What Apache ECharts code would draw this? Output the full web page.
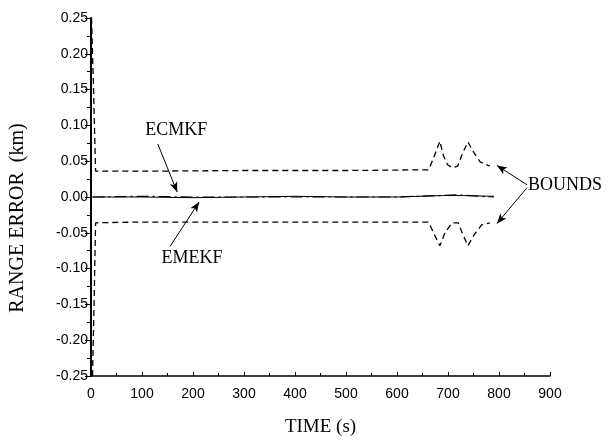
<!DOCTYPE html>
<html>
<head>
<meta charset="utf-8">
<script src="https://cdn.jsdelivr.net/npm/echarts@6/dist/echarts.min.js"></script>
<style>html,body{margin:0;padding:0;background:#fff;}#c{width:608px;height:442px;}</style>
</head>
<body>
<div id="c"></div>
<script>
// ---- data (time in s, range error in km) ----
const xTicks = [0, 100, 200, 300, 400, 500, 600, 700, 800, 900];
const yTicks = [-0.25, -0.20, -0.15, -0.10, -0.05, 0.00, 0.05, 0.10, 0.15, 0.20, 0.25];

const upperBound = [[1,0.25],[5,0.15],[9,0.036],[100,0.036],[300,0.037],[500,0.037],[662,0.038],
  [672,0.055],[684,0.078],[691,0.058],[699,0.045],[708,0.041],[719,0.043],[728,0.060],[739,0.077],
  [749,0.064],[763,0.049],[782,0.043]];
const lowerBound = [[3,-0.25],[6,-0.15],[9,-0.036],[100,-0.035],[300,-0.035],[500,-0.035],[662,-0.035],
  [673,-0.052],[684,-0.068],[694,-0.050],[708,-0.036],[720,-0.036],[729,-0.052],[739,-0.068],
  [751,-0.053],[766,-0.039],[782,-0.036]];
const ecmkf = [[3,0.000],[100,0.001],[200,0.000],[300,0.000],[400,0.000],[500,0.000],[600,0.000],
  [680,0.002],[720,0.003],[760,0.001],[790,0.000]];
const emekf = [[3,0.000],[100,0.000],[200,-0.001],[300,0.000],[400,0.001],[500,0.000],[600,0.000],
  [690,0.002],[730,0.002],[790,0.001]];

// annotation arrows: [fromTime, fromErr, toTime, toErr]
const arrowEcmkf = [131, 0.074, 169, 0.007];
const arrowEmekf = [155, -0.069, 212, -0.007];
const arrowBoundsUp = [855, 0.017, 796, 0.044];
const arrowBoundsDn = [855, 0.013, 796, -0.037];
// annotation labels: [text, time, err, align]
const labelEcmkf = ['ECMKF', 167, 0.093, 'center'];
const labelEmekf = ['EMEKF', 198, -0.085, 'center'];
const labelBounds = ['BOUNDS', 857, 0.016, 'left'];

const chart = echarts.init(document.getElementById('c'), null, {renderer:'canvas'});
const serif = '"Liberation Serif", "DejaVu Serif", serif';
const sans = '"Liberation Sans", Arial, sans-serif';
function arrow(a){ return [{coord:[a[0],a[1]]},{coord:[a[2],a[3]]}]; }

const option = {
  animation: false,
  backgroundColor: '#fff',
  grid: {left: 91, right: 58, top: 18, bottom: 63},
  xAxis: {
    type: 'value', min: xTicks[0], max: xTicks[xTicks.length-1], interval: 100,
    name: 'TIME (s)', nameLocation: 'middle', nameGap: 42,
    nameTextStyle: {fontFamily: serif, fontSize: 19, color: '#000'},
    axisLine: {show: true, onZero: false, lineStyle: {color: '#000', width: 1.5}},
    axisTick: {show: true, inside: true, length: 4, lineStyle: {color: '#000'}},
    minorTick: {show: true, splitNumber: 2, length: 3, lineStyle: {color: '#000'}},
    axisLabel: {fontFamily: sans, fontSize: 14, color: '#000', margin: 11},
    splitLine: {show: false}
  },
  yAxis: {
    type: 'value', min: yTicks[0], max: yTicks[yTicks.length-1], interval: 0.05,
    axisLine: {show: true, onZero: false, lineStyle: {color: '#000', width: 2}},
    axisTick: {show: true, length: 6, lineStyle: {color: '#000'}},
    minorTick: {show: true, splitNumber: 2, length: 4, lineStyle: {color: '#000'}},
    axisLabel: {fontFamily: sans, fontSize: 14, color: '#000', margin: 3,
      formatter: v => v.toFixed(2)},
    splitLine: {show: false}
  },
  series: [
    {name: 'Upper bound', type: 'line', data: upperBound, symbol: 'none', smooth: false,
      lineStyle: {color: '#000', width: 1.3, type: [6, 4]}},
    {name: 'Lower bound', type: 'line', data: lowerBound, symbol: 'none', smooth: false,
      lineStyle: {color: '#000', width: 1.3, type: [6, 4]}},
    {name: 'EMEKF', type: 'line', data: emekf, symbol: 'none',
      lineStyle: {color: '#000', width: 1}},
    {name: 'ECMKF', type: 'line', data: ecmkf, symbol: 'none',
      lineStyle: {color: '#000', width: 1.2, type: [12, 4, 2, 4]}},
    {name: 'arrows', type: 'line', data: [], symbol: 'none',
      markLine: {silent: true, symbol: ['none', 'arrow'], symbolSize: [6, 10],
        label: {show: false},
        lineStyle: {color: '#000', width: 1, type: 'solid'},
        data: [arrow(arrowEcmkf), arrow(arrowEmekf), arrow(arrowBoundsUp), arrow(arrowBoundsDn)]}}
  ]
};
chart.setOption(option);

function textEl(l){
  const p = chart.convertToPixel({gridIndex:0}, [l[1], l[2]]);
  return {type:'text', x:p[0], y:p[1], silent:true,
    style:{text:l[0], font:'18px ' + serif, fill:'#000', align:l[3], verticalAlign:'middle'}};
}
chart.setOption({graphic: [
  textEl(labelEcmkf), textEl(labelEmekf), textEl(labelBounds),
  {type:'text', x:18, y:218, rotation:Math.PI/2, silent:true,
    style:{text:'RANGE ERROR  (km)', font:'20px ' + serif, fill:'#000', align:'center', verticalAlign:'middle'}}
]});
</script>
</body>
</html>
